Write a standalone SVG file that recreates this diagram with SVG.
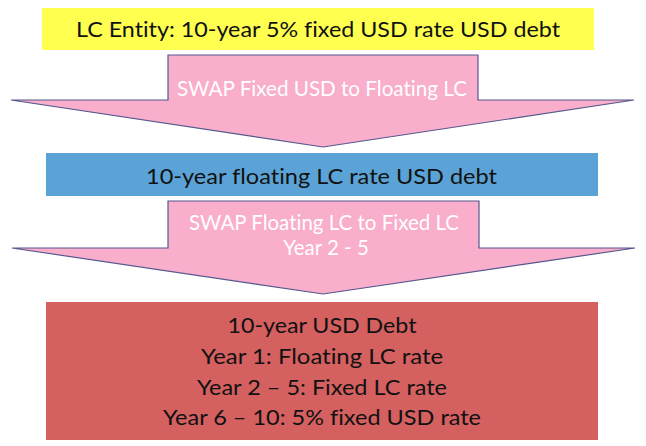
<svg xmlns="http://www.w3.org/2000/svg" width="646" height="446" viewBox="0 0 646 446">
  <style>
    .lbl { font-family: Lato, "Liberation Sans", "DejaVu Sans", sans-serif; font-size: 22px; fill: #111111; text-anchor: middle; font-variant-ligatures: none; }
    .arr { fill: #F9AECB; stroke: #55588E; stroke-width: 1.2; stroke-linejoin: miter; }
    .arrtxt { font-family: Lato, "Liberation Sans", "DejaVu Sans", sans-serif; font-size: 20.5px; fill: #FFFFFF; text-anchor: middle; font-variant-ligatures: none; }
  </style>
  <rect width="646" height="446" fill="#FFFFFF"/>

  <g id="connectors">
    <g id="swap1">
      <polygon class="arr" points="168,55 478,55 478,100 634,100 323,147 11,100 168,100"/>
      <text class="arrtxt" x="322" y="96" textLength="290" lengthAdjust="spacingAndGlyphs">SWAP Fixed USD to Floating LC</text>
    </g>
    <g id="swap2">
      <polygon class="arr" points="168,201 479,201 479,248 635,248 323,294 12,248 168,248"/>
      <text class="arrtxt" x="324" y="230" textLength="270" lengthAdjust="spacingAndGlyphs">SWAP Floating LC to Fixed LC</text>
      <text class="arrtxt" x="326" y="255">Year 2 - 5</text>
    </g>
  </g>

  <g id="node-lc-entity">
    <rect x="42" y="8" width="552" height="42" fill="#FFFF4F"/>
    <text class="lbl" x="318" y="37" textLength="484" lengthAdjust="spacingAndGlyphs">LC Entity: 10-year 5% fixed USD rate USD debt</text>
  </g>

  <g id="node-floating">
    <rect x="46" y="153" width="552" height="43" fill="#5BA3D6"/>
    <text class="lbl" x="321.5" y="184" textLength="351" lengthAdjust="spacingAndGlyphs">10-year floating LC rate USD debt</text>
  </g>

  <g id="node-result">
    <rect x="46" y="302" width="552" height="138" fill="#D46060"/>
    <text class="lbl" x="322" y="333" textLength="189" lengthAdjust="spacingAndGlyphs">10-year USD Debt</text>
    <text class="lbl" x="322" y="364" textLength="242" lengthAdjust="spacingAndGlyphs">Year 1: Floating LC rate</text>
    <text class="lbl" x="322" y="395" textLength="250" lengthAdjust="spacingAndGlyphs">Year 2 – 5: Fixed LC rate</text>
    <text class="lbl" x="322" y="425" textLength="318" lengthAdjust="spacingAndGlyphs">Year 6 – 10: 5% fixed USD rate</text>
  </g>
</svg>
